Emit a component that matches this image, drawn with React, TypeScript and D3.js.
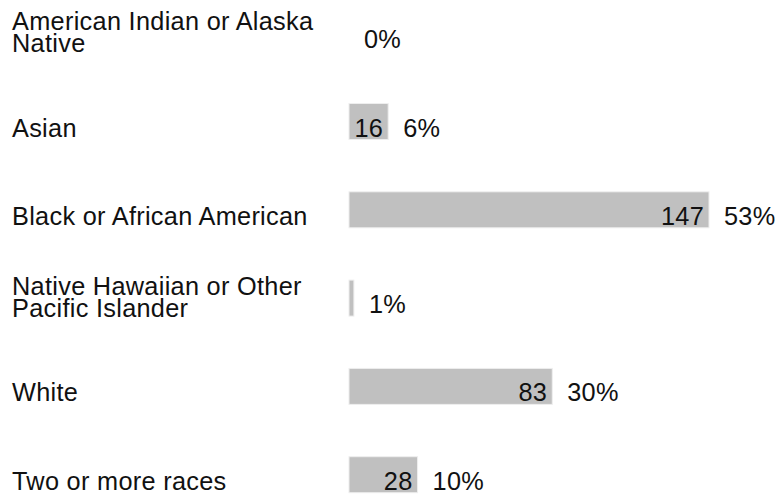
import React from "react";
import * as d3 from "d3";

const categories: string[][] = [
  ["American Indian or Alaska", "Native"],
  ["Asian"],
  ["Black or African American"],
  ["Native Hawaiian or Other", "Pacific Islander"],
  ["White"],
  ["Two or more races"],
];
const counts: number[] = [0, 16, 147, 2, 83, 28];
const percents: string[] = ["0%", "6%", "53%", "1%", "30%", "10%"];

const W = 776;
const H = 497;
const FONT = 25.3;

export default function App() {
  const ids = categories.map((_, i) => String(i));
  const y = d3.scaleBand<string>().domain(ids).range([-4.95, 524.85]).paddingInner(0).paddingOuter(0);
  const x = d3.scaleLinear().domain([0, d3.max(counts) as number]).range([349, 709]);
  const capOff = FONT * 0.358;

  return (
    <svg
      width={W}
      height={H}
      style={{ position: "absolute", left: 0, top: 0, background: "#fff" }}
      fontFamily="'Liberation Sans', Arial, sans-serif"
      fontSize={FONT}
      letterSpacing={0.3}
    >
      {categories.map((lines, i) => {
        const c = (y(String(i)) as number) + y.bandwidth() / 2;
        const v = counts[i];
        const x0 = x(0);
        const x1 = x(v);
        const barTop = c - 24;
        const barH = 36;
        return (
          <g key={i}>
            {lines.map((ln, j) => (
              <text
                key={j}
                x={12}
                y={c + capOff + (lines.length > 1 ? 4 : 0) - 22.5 * (lines.length - 1 - j)}
                fill="#111"
              >
                {ln}
              </text>
            ))}
            {v > 0 && (
              <rect
                x={x0}
                y={barTop}
                width={x1 - x0}
                height={barH}
                fill="#c0c0c0"
                stroke="#eeeeee"
                strokeWidth={1}
              />
            )}
            {v > 2 && (
              <text x={x1 - 5} y={c + capOff} textAnchor="end" fill="#111">
                {v}
              </text>
            )}
            <text x={x1 + 15} y={c + capOff} fill="#111">
              {percents[i]}
            </text>
          </g>
        );
      })}
    </svg>
  );
}
